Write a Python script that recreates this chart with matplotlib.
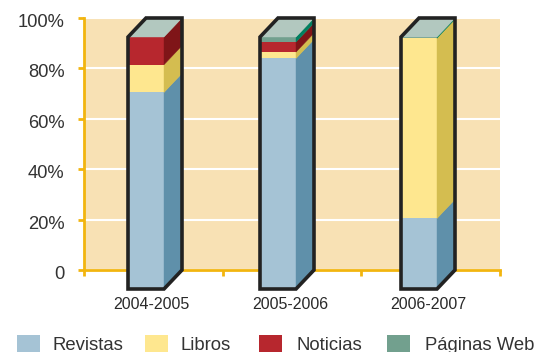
import matplotlib
matplotlib.use('Agg')
import matplotlib.pyplot as plt
from matplotlib.patches import Polygon, Rectangle
from matplotlib.transforms import ScaledTranslation

plt.rcParams['font.family'] = ['Liberation Sans', 'DejaVu Sans']

periods = ['2004-2005', '2005-2006', '2006-2007']
series = ['Revistas', 'Libros', 'Noticias', 'Páginas Web']
revistas = [78, 91.5, 28]
libros = [11, 2.5, 71.5]
noticias = [11, 4, 0]
paginas = [0, 2, 0.5]
ticks = [0, 20, 40, 60, 80, 100]
tick_labels = ['0', '20%', '40%', '60%', '80%', '100%']

front_cols = ['#a5c3d5', '#fee78f', '#b7272e', '#72a08e']
side_cols = ['#5f90aa', '#d4bd50', '#7f1518', '#007f60']
top_col = '#b2c8bf'
edge = '#222222'

W, H = 537, 352
fig = plt.figure(figsize=(W / 100, H / 100), dpi=100)
# axes box in pixels of the picture
ax = fig.add_axes([84 / W, 1 - 270 / H, 416 / W, 252 / H])
ax.set_facecolor('#f8e1b4')
ax.set_xlim(0, 3)
ax.set_ylim(0, 100)

for s in ['top', 'right']:
    ax.spines[s].set_visible(False)
for s in ['left', 'bottom']:
    ax.spines[s].set_color('#f2b50f')
    ax.spines[s].set_linewidth(2)

ax.set_yticks(ticks)
ax.set_yticklabels(tick_labels, fontsize=13.2, color='#333333')
ax.set_xticks([0, 1, 2, 3])
ax.set_xticklabels([])
ax.tick_params(axis='both', color='#f2b50f', width=2, length=4)
ax.tick_params(axis='y', pad=10)
ax.grid(axis='y', color='white', lw=1.5)
ax.set_axisbelow(True)

# tick labels sit a little under their ticks in the original
down = ScaledTranslation(0, -2.5 / 100, fig.dpi_scale_trans)
for lab in ax.get_yticklabels():
    lab.set_transform(lab.get_transform() + down)

# depth of the 3d bars
px_x = 3 / 416
px_y = 100 / 252
dx = 18 * px_x
dy = 19 * px_y
bar_w = 36 * px_x
lefts = [(128 + 18 - 84) * px_x, (260 + 18 - 84) * px_x, (401 + 18 - 84) * px_x]
# lefts are at the back plane, the front is drawn shifted down and left
front = ax.transData + ScaledTranslation(-18 / 100, -19 / 100, fig.dpi_scale_trans)


def add_poly(pts, color, z, fill=True):
    ax.add_patch(Polygon(pts, closed=True, facecolor=color if fill else 'none',
                         edgecolor=edge if not fill else color, lw=2.6 if not fill else 0.3,
                         zorder=z, clip_on=False, joinstyle='miter'))


columns = [revistas, libros, noticias, paginas]
for i, x in enumerate(lefts):
    bottom = 0
    for vals, fc, sc in zip(columns, front_cols, side_cols):
        v = vals[i]
        if v == 0:
            continue
        ax.bar(x, v, bar_w, bottom=bottom, align='edge', color=fc, zorder=3,
               transform=front, clip_on=False)
        # side face, from the front right edge to the back
        xr = x + bar_w
        add_poly([(xr - dx, bottom - dy), (xr, bottom), (xr, bottom + v), (xr - dx, bottom + v - dy)], sc, 3)
        bottom += v
    # top face
    add_poly([(x - dx, bottom - dy), (x, bottom), (x + bar_w, bottom), (x + bar_w - dx, bottom - dy)], top_col, 4)
    # outline of the whole block
    add_poly([(x - dx, -dy), (x + bar_w - dx, -dy), (x + bar_w, 0), (x + bar_w, bottom),
              (x, bottom), (x - dx, bottom - dy)], 'none', 5, fill=False)

# year labels sit under the block, not at the ticks
label_x = [151, 290, 428]
for lx, name in zip(label_x, periods):
    fig.text(lx / W, 1 - 304.5 / H, name, ha='center', va='center', fontsize=11.5, color='#2a2a2a')

# legend row, cut by the bottom edge like the original
patch_x = [17, 145, 259, 387]
text_x = [52, 180, 296, 425]
for px, tx, name, col in zip(patch_x, text_x, series, front_cols):
    fig.add_artist(Rectangle((px / W, 0), 23 / W, 17 / H, transform=fig.transFigure, color=col, lw=0))
    fig.text(tx / W, 1 - 350.5 / H, name, ha='left', va='baseline', fontsize=13.3, color='#333333')

fig.savefig('out.png', dpi=100)
